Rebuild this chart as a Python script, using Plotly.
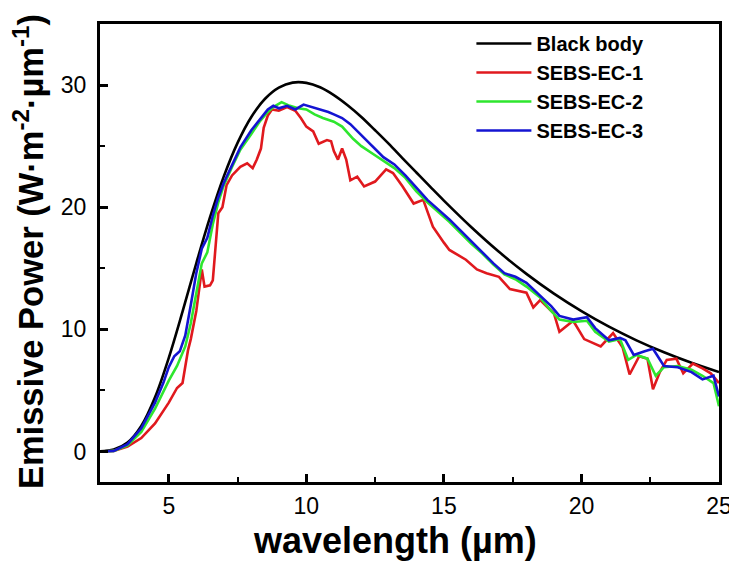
import plotly.graph_objects as go

# ---------------- data ----------------
bb_x = [2.5, 3.0, 3.5, 4.0, 4.5, 5.0, 5.5, 6.0, 6.5, 7.0, 7.5, 8.0, 8.5, 9.0, 9.5, 10.0,
        10.5, 11.0, 11.5, 12.0, 12.5, 13.0, 13.5, 14.0, 14.5, 15.0, 16.0, 17.0, 18.0,
        19.0, 20.0, 21.0, 22.0, 23.0, 24.0, 25.0]
bb_y = [0.02, 0.16, 0.73, 2.09, 4.44, 7.67, 11.45, 15.41, 19.18, 22.52, 25.27, 27.39,
        28.88, 29.79, 30.20, 30.18, 29.82, 29.18, 28.35, 27.39, 26.30, 25.18, 24.00,
        22.84, 21.68, 20.54, 18.36, 16.35, 14.54, 12.92, 11.49, 10.22, 9.10, 8.12,
        7.26, 6.50]

ec1_x = [2.5, 3.0, 3.5, 4.0, 4.5, 5.0, 5.3, 5.5, 5.7, 5.8, 6.0, 6.1, 6.2, 6.3, 6.5, 6.6,
         6.7, 6.8, 6.95, 7.1, 7.3, 7.6, 7.85, 8.05, 8.2, 8.35, 8.45, 8.6, 8.75, 9.0,
         9.3, 9.6, 9.8, 10.0, 10.25, 10.45, 10.75, 10.9, 11.0, 11.15, 11.3, 11.45,
         11.6, 11.85, 12.1, 12.5, 12.9, 13.15, 13.5, 13.9, 14.25, 14.6, 15.0, 15.2,
         15.8, 16.2, 16.55, 17.0, 17.4, 18.0, 18.25, 18.5, 19.0, 19.2, 19.7, 20.1,
         20.7, 21.15, 21.5, 21.75, 22.1, 22.4, 22.6, 22.85, 23.1, 23.45, 23.7, 24.05,
         24.4, 24.7, 25.0]
ec1_y = [0.0, 0.05, 0.4, 1.1, 2.3, 4.0, 5.2, 5.6, 8.3, 9.2, 11.5, 13.0, 14.9, 13.5, 13.6,
         14.0, 17.0, 19.5, 20.0, 21.8, 22.6, 23.3, 23.6, 23.2, 23.9, 24.8, 26.5, 27.5,
         28.0, 27.9, 28.2, 27.9, 27.3, 26.6, 26.2, 25.2, 25.5, 25.4, 24.6, 23.9, 24.8,
         23.9, 22.2, 22.5, 21.7, 22.1, 23.1, 22.8, 21.7, 20.3, 20.6, 18.4, 17.1, 16.5,
         15.7, 14.9, 14.6, 14.3, 13.3, 13.0, 11.8, 12.4, 11.3, 9.8, 10.7, 9.2, 8.6,
         9.7, 8.5, 6.3, 7.8, 7.6, 5.1, 6.5, 7.5, 7.6, 6.4, 7.2, 6.8, 6.4, 5.6]

ec2_x = [2.5, 3.0, 3.5, 4.0, 4.5, 5.0, 5.3, 5.6, 5.8, 6.0, 6.2, 6.4, 6.6, 6.8, 7.0, 7.3,
         7.6, 8.0, 8.3, 8.6, 8.8, 9.1, 9.4, 9.7, 10.0, 10.3, 10.6, 11.0, 11.3, 11.7,
         12.0, 12.4, 12.8, 13.2, 13.6, 14.0, 14.4, 14.8, 15.2, 15.6, 16.0, 16.4, 16.8,
         17.2, 17.6, 18.0, 18.5, 18.9, 19.2, 19.7, 20.2, 20.5, 21.0, 21.4, 21.7, 22.0,
         22.4, 22.7, 23.0, 23.5, 24.0, 24.4, 24.8, 25.0]
ec2_y = [0.0, 0.05, 0.5, 1.6, 3.5, 5.8, 7.0, 8.6, 10.5, 13.0, 15.4, 16.3, 18.6, 20.4,
         21.8, 23.3, 24.7, 26.0, 27.0, 27.8, 28.2, 28.6, 28.3, 28.1, 28.0, 27.6, 27.3,
         27.0, 26.6, 25.6, 25.0, 24.4, 23.8, 23.2, 22.4, 21.3, 20.4, 19.6, 18.8, 17.9,
         17.0, 16.2, 15.3, 14.5, 14.1, 13.5, 12.6, 11.5, 10.8, 10.6, 10.7, 9.8, 9.0,
         9.2, 7.5, 7.9, 7.6, 6.2, 6.9, 7.0, 6.7, 6.2, 5.6, 3.7]

ec3_x = [2.5, 3.0, 3.5, 4.0, 4.5, 4.8, 5.0, 5.2, 5.4, 5.6, 5.8, 6.0, 6.2, 6.4, 6.6, 6.8,
         7.0, 7.3, 7.6, 8.0, 8.3, 8.6, 8.8, 9.0, 9.3, 9.6, 9.9, 10.2, 10.5, 10.8, 11.0,
         11.3, 11.6, 12.0, 12.4, 12.8, 13.2, 13.6, 14.0, 14.4, 14.8, 15.2, 15.6, 16.0,
         16.4, 16.8, 17.2, 17.6, 18.0, 18.5, 18.9, 19.2, 19.7, 20.2, 20.5, 21.0, 21.4,
         21.6, 21.9, 22.3, 22.6, 23.0, 23.5, 24.0, 24.4, 24.8, 25.0]
ec3_y = [0.0, 0.05, 0.6, 1.9, 4.0, 5.6, 6.9, 7.8, 8.2, 9.5, 12.0, 14.6, 16.6, 17.5, 19.3,
         20.8, 22.0, 23.5, 24.9, 26.3, 27.2, 28.0, 28.3, 28.1, 28.3, 28.0, 28.4, 28.2,
         28.0, 27.8, 27.6, 27.3, 26.8, 25.9, 25.0, 24.1, 23.5, 22.6, 21.6, 20.6, 19.8,
         19.0, 18.1, 17.2, 16.3, 15.4, 14.6, 14.3, 13.8, 12.7, 11.9, 11.1, 10.8, 11.0,
         10.1, 9.1, 9.3, 9.1, 7.9, 8.2, 8.4, 7.0, 6.9, 6.5, 5.9, 6.2, 4.5]

series_names = ["Black body", "SEBS-EC-1", "SEBS-EC-2", "SEBS-EC-3"]
series_colors = ["#000000", "#e0191e", "#2ee62e", "#1414d2"]

x_tickvals = [5, 10, 15, 20, 25]
y_tickvals = [0, 10, 20, 30]
x_title = "<b>wavelength (µm)</b>"
y_title = "<b>Emissive Power (W·m<sup>-2</sup>·µm<sup>-1</sup>)</b>"

FONT = "Liberation Sans, Arial, sans-serif"

fig = go.Figure()
for name, xs, ys, col, shape in zip(
        series_names,
        [bb_x, ec1_x, ec2_x, ec3_x],
        [bb_y, ec1_y, ec2_y, ec3_y],
        series_colors,
        ["spline", "linear", "linear", "linear"]):
    fig.add_trace(go.Scatter(x=xs, y=ys, mode="lines", name=name,
                             line=dict(color=col, width=2.6, shape=shape)))

axis_common = dict(
    showline=True, linecolor="black", linewidth=3, mirror=True,
    ticks="inside", ticklen=8, tickwidth=2.5, tickcolor="black",
    showgrid=False, zeroline=False, automargin=False,
    tickfont=dict(family=FONT, size=23, color="black"),
)

fig.update_xaxes(range=[2.5, 25], tickvals=x_tickvals, ticklabelstandoff=1,
                 minor=dict(ticks="inside", ticklen=5, tickwidth=2, tickcolor="black", dtick=2.5, tick0=0),
                 **axis_common)
fig.update_yaxes(range=[-2.5, 35], tickvals=y_tickvals, ticklabelstandoff=6,
                 minor=dict(ticks="inside", ticklen=5, tickwidth=2, tickcolor="black", dtick=5, tick0=0),
                 **axis_common)

# axis titles as annotations (positioned like the reference)
fig.add_annotation(text=x_title, xref="paper", yref="paper", x=0.4766, y=-0.128,
                   xanchor="center", yanchor="middle", showarrow=False,
                   font=dict(family=FONT, size=36, color="black"))
fig.add_annotation(text=y_title, xref="paper", yref="paper", x=-0.1163, y=0.502,
                   xanchor="center", yanchor="middle", showarrow=False, textangle=-90,
                   font=dict(family=FONT, size=34.5, color="black"))

# page body has an 8px margin: shrink the figure so the plot area lands where it should
fig.update_layout(
    width=729, height=554,
    margin=dict(l=92, r=18, t=16, b=80),
    plot_bgcolor="white", paper_bgcolor="white",
    legend=dict(x=0.6, y=1.0, xanchor="left", yanchor="top",
                font=dict(family=FONT, size=20, color="black", weight="bold"),
                bgcolor="rgba(0,0,0,0)", itemwidth=55, tracegroupgap=0),
    showlegend=True,
)

fig.write_html("out.html")
